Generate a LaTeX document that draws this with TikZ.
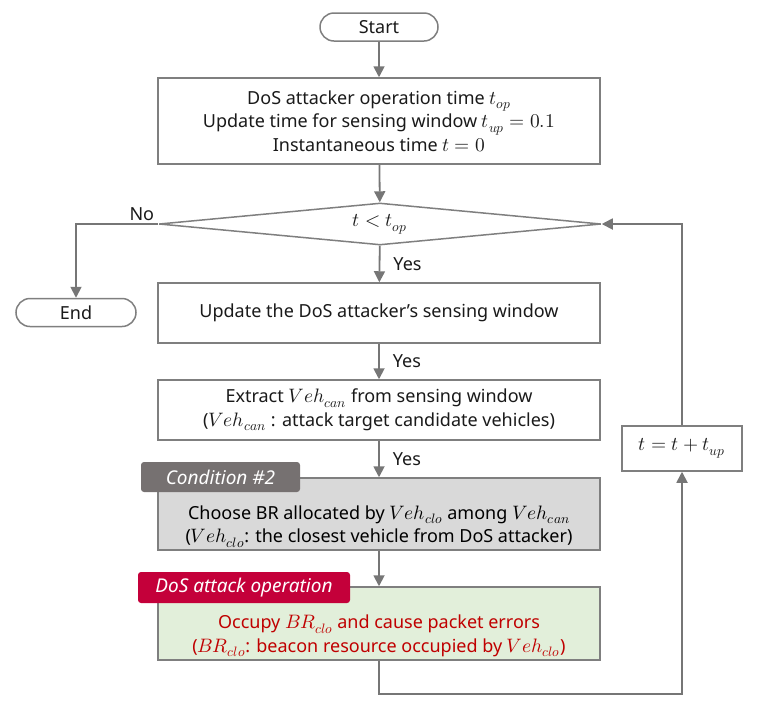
\documentclass[tikz,border=0pt]{standalone}
\usepackage{fontspec}
\usepackage{unicode-math}
\setmainfont{Noto Sans}
\setmathfont{Latin Modern Math}[Scale=1.08]
\usetikzlibrary{shapes.geometric,arrows.meta}
\definecolor{ln}{HTML}{767676}
\definecolor{bd}{HTML}{7F7F7F}
\definecolor{grayf}{HTML}{D9D9D9}
\definecolor{greenf}{HTML}{E2EFDA}
\definecolor{redt}{HTML}{C00000}
\definecolor{tagr}{HTML}{C4003A}
\definecolor{tagg}{HTML}{767171}
\definecolor{txt}{HTML}{1A1A1A}
\newcommand{\lowstrut}{\rule{0pt}{38.5pt}}
\begin{document}
\begin{tikzpicture}[x=1pt,y=-1pt,font=\fontsize{18}{23.5}\selectfont,
  box/.style={draw=bd,line width=1.5pt,fill=white,minimum width=442pt,inner sep=0pt,align=center,text=txt},
  pill/.style={draw=bd,line width=1.5pt,fill=white,rounded corners=14pt,minimum height=28pt,inner sep=0pt,text=txt},
  dia/.style={draw=bd,line width=1.5pt,fill=white,diamond,aspect=10,minimum width=442pt,minimum height=42pt,inner sep=0pt,text=txt},
  tag/.style={rounded corners=3pt,text=white,inner sep=0pt,font=\fontsize{19}{20}\selectfont\itshape},
  arr/.style={draw=ln,line width=1.8pt,-{Triangle[width=11pt,length=11pt]}},
  lab/.style={text=txt,inner sep=2pt}]
\useasboundingbox (0,0) rectangle (759,716);
\node[pill,minimum width=118pt] (start) at (379,27) {Start};
\node[box,minimum height=86pt] (init) at (379,121) {DoS attacker operation time $t_{op}$\\Update time for sensing window $t_{up}=0.1$\\Instantaneous time $t=0$};
\node[dia] (cond) at (380,224) {$t<t_{op}$};
\node[pill,minimum width=120pt] (end) at (76,312.5) {End};
\node[box,minimum height=60pt] (upd) at (379,313) {Update the DoS attacker’s sensing window};
\node[box,minimum height=60pt] (ext) at (379,410) {Extract $Veh_{can}$ from sensing window\\($Veh_{can}$ : attack target candidate vehicles)};
\node[box,fill=grayf,minimum height=72pt,text=black] (choose) at (379,514) {\lowstrut Choose BR allocated by $Veh_{clo}$ among $Veh_{can}$\\($Veh_{clo}$: the closest vehicle from DoS attacker)};
\node[box,fill=greenf,minimum height=73pt,text=redt] (occ) at (379,623.5) {\lowstrut Occupy $BR_{clo}$ and cause packet errors\\($BR_{clo}$: beacon resource occupied by $Veh_{clo}$)};
\node[box,minimum width=120pt,minimum height=45pt] (inc) at (682,448.5) {$t=t+t_{up}$};
\node[tag,fill=tagg,minimum width=159pt,minimum height=30pt] (c2) at (220.5,477) {Condition \#2};
\node[tag,fill=tagr,minimum width=212pt,minimum height=31pt] (dos) at (244,587.5) {DoS attack operation};
\draw[arr] (start) -- (init);
\draw[arr] (init) -- (cond);
\draw[arr] (cond) -- node[lab,right,xshift=11pt] {Yes} (upd);
\draw[arr] (upd) -- node[lab,right,xshift=11pt] {Yes} (ext);
\draw[arr] (ext) -- node[lab,right,xshift=11pt] {Yes} (choose);
\draw[arr] (choose) -- (occ);
\draw[arr] (cond.west) -| node[lab,above,pos=0.1] {No} (end.north);
\draw[arr] (occ.south) -- ++(0,33) -| (inc.south);
\draw[arr] (inc.north) |- (cond.east);
\end{tikzpicture}
\end{document}
